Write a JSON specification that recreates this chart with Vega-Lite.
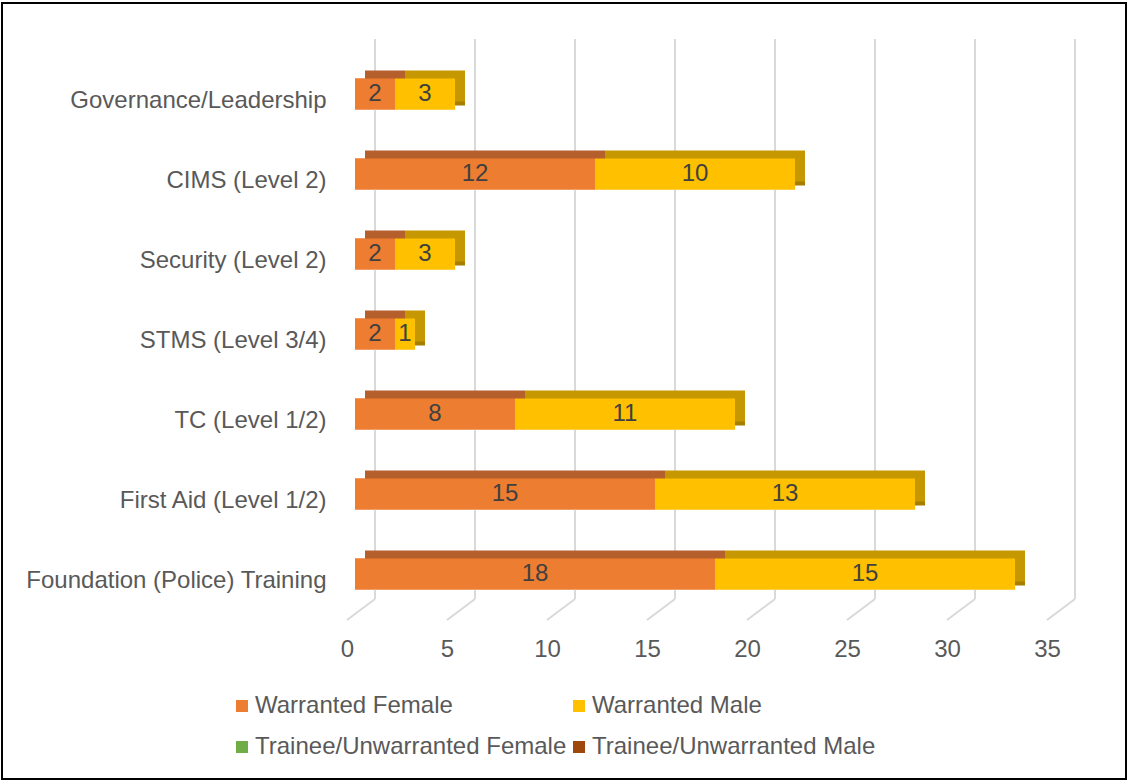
{
  "$schema": "https://vega.github.io/schema/vega-lite/v6.json",
  "width": 1124,
  "height": 776,
  "autosize": {"type": "none"},
  "padding": {"left": 2, "top": 3, "right": 2, "bottom": 2},
  "background": "white",
  "config": {
    "font": "Liberation Sans",
    "view": {"stroke": "#000000", "strokeWidth": 2},
    "axis": {"labelFontSize": 24, "labelColor": "#595959", "labelFont": "Liberation Sans", "domain": false, "ticks": false, "tickSize": 0, "grid": false, "labelLimit": 0, "title": null}
  },
  "datasets": {
    "bars": [
      {"category": "Governance/Leadership", "series": "Warranted Female", "value": 2},
      {"category": "Governance/Leadership", "series": "Warranted Male", "value": 3},
      {"category": "CIMS (Level 2)", "series": "Warranted Female", "value": 12},
      {"category": "CIMS (Level 2)", "series": "Warranted Male", "value": 10},
      {"category": "Security (Level 2)", "series": "Warranted Female", "value": 2},
      {"category": "Security (Level 2)", "series": "Warranted Male", "value": 3},
      {"category": "STMS (Level 3/4)", "series": "Warranted Female", "value": 2},
      {"category": "STMS (Level 3/4)", "series": "Warranted Male", "value": 1},
      {"category": "TC (Level 1/2)", "series": "Warranted Female", "value": 8},
      {"category": "TC (Level 1/2)", "series": "Warranted Male", "value": 11},
      {"category": "First Aid (Level 1/2)", "series": "Warranted Female", "value": 15},
      {"category": "First Aid (Level 1/2)", "series": "Warranted Male", "value": 13},
      {"category": "Foundation (Police) Training", "series": "Warranted Female", "value": 18},
      {"category": "Foundation (Police) Training", "series": "Warranted Male", "value": 15}
    ],
    "ticks": [{"t": 0}, {"t": 5}, {"t": 10}, {"t": 15}, {"t": 20}, {"t": 25}, {"t": 30}, {"t": 35}]
  },
  "data": {"name": "bars"},
  "layer": [
    {
      "mark": {"type": "bar", "height": {"band": 0.3875}},
      "encoding": {
        "y": {
          "field": "category", "type": "nominal", "title": null,
          "scale": {
            "domain": ["Governance/Leadership", "CIMS (Level 2)", "Security (Level 2)", "STMS (Level 3/4)", "TC (Level 1/2)", "First Aid (Level 1/2)", "Foundation (Police) Training"],
            "range": [51, 611], "paddingInner": 0, "paddingOuter": 0
          },
          "axis": {"offset": -353, "labelPadding": 29, "labelOffset": 7}
        },
        "x": {
          "field": "value", "type": "quantitative", "stack": "zero", "title": null,
          "scale": {"domain": [-17.65, 38.55], "nice": false, "zero": false},
          "axis": {"offset": -150, "values": [0, 5, 10, 15, 20, 25, 30, 35], "labelPadding": 8, "labelOffset": -8, "labelFlush": false, "labelOverlap": false}
        },
        "color": {
          "field": "series", "type": "nominal",
          "scale": {"domain": ["Warranted Female", "Warranted Male", "Trainee/Unwarranted Female", "Trainee/Unwarranted Male"], "range": ["#ED7D31", "#FFC000", "#70AD47", "#9E480E"]},
          "legend": {"orient": "none", "legendX": 228, "legendY": 691, "direction": "horizontal", "columns": 2, "columnPadding": 0, "rowPadding": 17, "symbolType": "square", "symbolSize": 144, "symbolStrokeWidth": 0, "labelFontSize": 24, "labelColor": "#595959", "labelFont": "Liberation Sans", "labelOffset": 1, "labelLimit": 0, "title": null, "padding": 0}
        },
        "order": {"field": "series", "type": "nominal"}
      }
    },
    {
      "data": {"name": "ticks"},
      "mark": {"type": "rule", "color": "#D9D9D9", "strokeWidth": 2, "xOffset": 20, "yOffset": -55, "y2Offset": 25},
      "encoding": {
        "x": {"field": "t", "type": "quantitative", "title": null},
        "y": {"datum": "Governance/Leadership", "type": "nominal", "title": null},
        "y2": {"datum": "Foundation (Police) Training"}
      }
    },
    {
      "data": {"name": "ticks"},
      "mark": {"type": "rule", "color": "#D9D9D9", "strokeWidth": 2, "xOffset": 20, "x2Offset": -8, "yOffset": 25, "y2Offset": 46},
      "encoding": {
        "x": {"field": "t", "type": "quantitative", "title": null},
        "x2": {"field": "t"},
        "y": {"datum": "Foundation (Police) Training", "type": "nominal", "title": null},
        "y2": {"datum": "Foundation (Police) Training"}
      }
    },
    {
      "mark": {"type": "bar", "height": {"band": 0.3875}, "x2Offset": 10, "yOffset": -4, "color": "#A57E00"},
      "encoding": {
        "y": {"field": "category", "type": "nominal", "title": null},
        "x": {"aggregate": "sum", "field": "value", "type": "quantitative", "title": null},
        "x2": {"aggregate": "sum", "field": "value"}
      }
    },
    {
      "mark": {"type": "bar", "height": {"band": 0.3875}, "xOffset": 10, "x2Offset": 10, "yOffset": -8},
      "encoding": {
        "y": {"field": "category", "type": "nominal", "title": null},
        "x": {"field": "value", "type": "quantitative", "stack": "zero", "title": null},
        "fill": {"field": "series", "type": "nominal", "scale": {"domain": ["Warranted Female", "Warranted Male"], "range": ["#B5602C", "#C59700"]}, "legend": null},
        "order": {"field": "series", "type": "nominal"}
      }
    },
    {
      "mark": {"type": "bar", "height": {"band": 0.3875}},
      "encoding": {
        "y": {"field": "category", "type": "nominal", "title": null},
        "x": {"field": "value", "type": "quantitative", "stack": "zero", "title": null},
        "color": {"field": "series", "type": "nominal"},
        "order": {"field": "series", "type": "nominal"}
      }
    },
    {
      "mark": {"type": "text", "fontSize": 24, "color": "#404040", "baseline": "middle", "align": "center"},
      "encoding": {
        "y": {"field": "category", "type": "nominal", "title": null},
        "x": {"field": "value", "type": "quantitative", "stack": "zero", "bandPosition": 0.5, "title": null},
        "detail": {"field": "series", "type": "nominal"},
        "order": {"field": "series", "type": "nominal"},
        "text": {"field": "value", "type": "quantitative"}
      }
    }
  ]
}
